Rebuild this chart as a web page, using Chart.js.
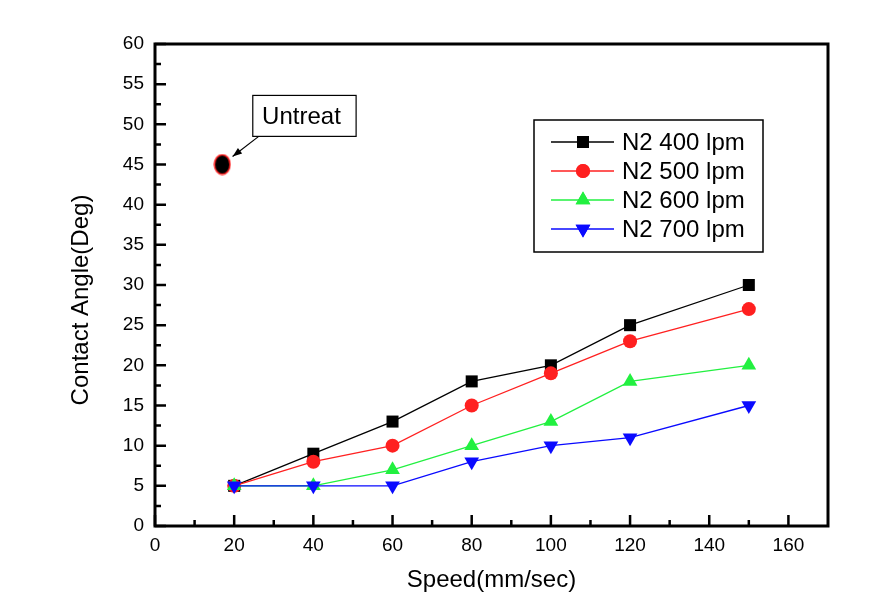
<!DOCTYPE html>
<html>
<head>
<meta charset="utf-8">
<script src="https://cdn.jsdelivr.net/npm/chart.js@4/dist/chart.umd.min.js"></script>
<style>
  html, body { margin: 0; padding: 0; background: #fff; }
  #chart { display: block; }
</style>
</head>
<body>
<canvas id="chart" width="890" height="607"></canvas>
<script>
// === data ===
var speeds = [20, 40, 60, 80, 100, 120, 150];
var n2_400 = [5, 9, 13, 18, 20, 25, 30];
var n2_500 = [5, 8, 10, 15, 19, 23, 27];
var n2_600 = [5, 5, 7, 10, 13, 18, 20];
var n2_700 = [5, 5, 5, 8, 10, 11, 15];
var untreatX = [17];
var untreatY = [45];
var seriesLabels = ['N2 400 lpm', 'N2 500 lpm', 'N2 600 lpm', 'N2 700 lpm'];
var xTicks = [0, 20, 40, 60, 80, 100, 120, 140, 160];
var xMinorTicks = [10, 30, 50, 70, 90, 110, 130, 150];
var yTicks = [0, 5, 10, 15, 20, 25, 30, 35, 40, 45, 50, 55, 60];
var yMinorTicks = [2.5, 7.5, 12.5, 17.5, 22.5, 27.5, 32.5, 37.5, 42.5, 47.5, 52.5, 57.5];

var FONT = 'Arial, "Liberation Sans", sans-serif';

function toPoints(xs, ys) {
  return xs.map(function (x, i) { return { x: x, y: ys[i] }; });
}

// ellipse marker for the untreated sample
var untreatMark = document.createElement('canvas');
untreatMark.width = 18; untreatMark.height = 22;
(function () {
  var c = untreatMark.getContext('2d');
  c.beginPath();
  c.ellipse(9, 11, 7.8, 9.8, 0, 0, Math.PI * 2);
  c.fillStyle = '#000';
  c.fill();
  c.lineWidth = 1.5;
  c.strokeStyle = '#ff2020';
  c.stroke();
})();

var styles = [
  { color: '#000000', point: 'rect', radius: 8.5, rot: 0 },
  { color: '#ff2020', point: 'circle', radius: 7, rot: 0 },
  { color: '#22f040', point: 'triangle', radius: 8.5, rot: 0 },
  { color: '#0a0aff', point: 'triangle', radius: 8.5, rot: 180 }
];
var series = [n2_400, n2_500, n2_600, n2_700];

var datasets = series.map(function (vals, i) {
  var s = styles[i];
  return {
    label: seriesLabels[i],
    data: toPoints(speeds, vals),
    borderColor: s.color,
    backgroundColor: s.color,
    borderWidth: 1.3,
    pointStyle: s.point,
    pointRadius: s.radius,
    pointRotation: s.rot,
    pointBorderWidth: 0,
    showLine: true,
    tension: 0,
    order: 4 - i
  };
});
datasets.push({
  label: 'Untreat',
  data: toPoints(untreatX, untreatY),
  pointStyle: untreatMark,
  pointRadius: 9,
  showLine: false,
  order: 0
});

// inward ticks, frame, axis titles, legend and the callout
var decorPlugin = {
  id: 'decor',
  afterDraw: function (chart) {
    var ctx = chart.ctx;
    var a = chart.chartArea;
    var xs = chart.scales.x, ys = chart.scales.y;
    ctx.save();

    // ticks pointing in
    ctx.strokeStyle = '#000';
    ctx.lineWidth = 2.5;
    ctx.beginPath();
    xTicks.forEach(function (v) {
      var px = xs.getPixelForValue(v);
      ctx.moveTo(px, a.bottom); ctx.lineTo(px, a.bottom - 11);
    });
    xMinorTicks.forEach(function (v) {
      var px = xs.getPixelForValue(v);
      ctx.moveTo(px, a.bottom); ctx.lineTo(px, a.bottom - 6);
    });
    yTicks.forEach(function (v) {
      var py = ys.getPixelForValue(v);
      ctx.moveTo(a.left, py); ctx.lineTo(a.left + 11, py);
    });
    yMinorTicks.forEach(function (v) {
      var py = ys.getPixelForValue(v);
      ctx.moveTo(a.left, py); ctx.lineTo(a.left + 6, py);
    });
    ctx.stroke();

    // frame
    ctx.lineWidth = 3;
    ctx.strokeRect(a.left, a.top, a.right - a.left, a.bottom - a.top);

    // axis titles
    ctx.fillStyle = '#000';
    ctx.font = '24px ' + FONT;
    ctx.textAlign = 'center';
    ctx.textBaseline = 'middle';
    ctx.fillText('Speed(mm/sec)', (a.left + a.right) / 2, 580);
    ctx.save();
    ctx.translate(81, (a.top + a.bottom) / 2 + 15);
    ctx.rotate(-Math.PI / 2);
    ctx.fillText('Contact Angle(Deg)', 0, 0);
    ctx.restore();

    // legend
    var lx = a.right - 294, ly = a.top + 76;
    ctx.lineWidth = 1.5;
    ctx.strokeRect(lx, ly, 229, 132);
    ctx.textAlign = 'left';
    ctx.font = '24px ' + FONT;
    styles.forEach(function (s, i) {
      var ry = ly + 22 + i * 29;
      ctx.strokeStyle = s.color;
      ctx.lineWidth = 1.3;
      ctx.beginPath();
      ctx.moveTo(lx + 17, ry); ctx.lineTo(lx + 80, ry);
      ctx.stroke();
      ctx.fillStyle = s.color;
      Chart.helpers.drawPoint(ctx, {
        pointStyle: s.point, radius: s.radius, rotation: s.rot, borderWidth: 0
      }, lx + 49, ry);
      ctx.fill();
      ctx.fillStyle = '#000';
      ctx.fillText(seriesLabels[i], lx + 88, ry + 1);
    });

    // "Untreat" callout
    var bx0 = xs.getPixelForValue(24.7), bx1 = xs.getPixelForValue(50.8);
    var by0 = ys.getPixelForValue(53.6), by1 = ys.getPixelForValue(48.5);
    ctx.strokeStyle = '#000';
    ctx.lineWidth = 1.2;
    ctx.strokeRect(bx0, by0, bx1 - bx0, by1 - by0);
    ctx.fillStyle = '#000';
    ctx.textAlign = 'center';
    ctx.fillText('Untreat', (bx0 + bx1) / 2 - 3, (by0 + by1) / 2 + 1);
    var tx = xs.getPixelForValue(19.6), ty = ys.getPixelForValue(46.0);
    var sx = xs.getPixelForValue(26.2), sy = ys.getPixelForValue(48.5);
    ctx.beginPath();
    ctx.moveTo(sx, sy); ctx.lineTo(tx, ty);
    ctx.stroke();
    var ang = Math.atan2(ty - sy, tx - sx);
    ctx.beginPath();
    ctx.moveTo(tx, ty);
    ctx.lineTo(tx - 10 * Math.cos(ang - 0.35), ty - 10 * Math.sin(ang - 0.35));
    ctx.lineTo(tx - 10 * Math.cos(ang + 0.35), ty - 10 * Math.sin(ang + 0.35));
    ctx.closePath();
    ctx.fill();

    ctx.restore();
  }
};

new Chart(document.getElementById('chart').getContext('2d'), {
  type: 'scatter',
  data: { datasets: datasets },
  options: {
    responsive: false,
    animation: false,
    layout: { padding: { left: 0, right: 62, top: 44, bottom: 0 } },
    plugins: {
      legend: { display: false },
      tooltip: { enabled: false }
    },
    scales: {
      x: {
        type: 'linear',
        min: 0,
        max: 170,
        afterBuildTicks: function (scale) {
          scale.ticks = xTicks.map(function (v) { return { value: v }; });
        },
        afterFit: function (scale) { scale.height = 81; },
        grid: { display: false, drawTicks: false },
        border: { display: false },
        ticks: { padding: 8, color: '#000', font: { family: FONT, size: 19 } }
      },
      y: {
        type: 'linear',
        min: 0,
        max: 60,
        afterBuildTicks: function (scale) {
          scale.ticks = yTicks.map(function (v) { return { value: v }; });
        },
        afterFit: function (scale) { scale.width = 155; },
        grid: { display: false, drawTicks: false },
        border: { display: false },
        ticks: { padding: 11, color: '#000', font: { family: FONT, size: 19 } }
      }
    }
  },
  plugins: [decorPlugin]
});
</script>
</body>
</html>
